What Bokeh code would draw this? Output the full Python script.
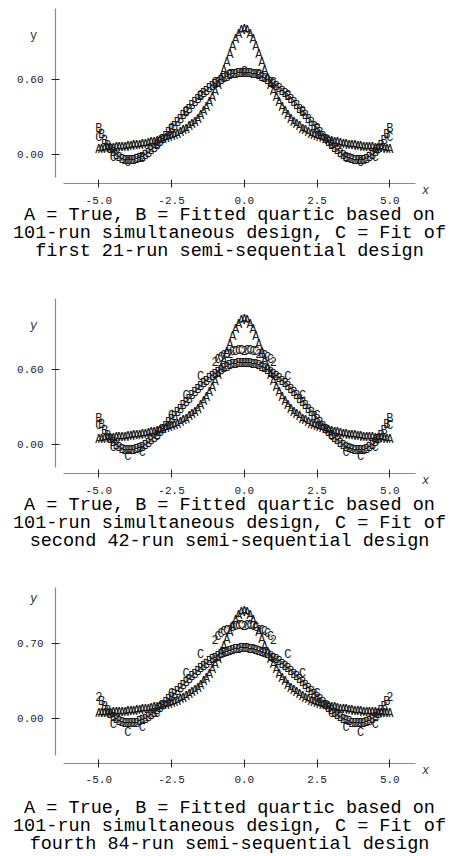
from bokeh.plotting import figure
from bokeh.layouts import column
from bokeh.models import Range1d, FixedTicker, PrintfTickFormatter, Label, ColumnDataSource
from bokeh.embed import file_html
from bokeh.resources import INLINE
from bokeh.core.properties import value

# ---------------- data ----------------
X_GRID = [-5.0, -4.9, -4.8, -4.7, -4.6, -4.5, -4.4, -4.3, -4.2, -4.1,
          -4.0, -3.9, -3.8, -3.7, -3.6, -3.5, -3.4, -3.3, -3.2, -3.1,
          -3.0, -2.9, -2.8, -2.7, -2.6, -2.5, -2.4, -2.3, -2.2, -2.1,
          -2.0, -1.9, -1.8, -1.7, -1.6, -1.5, -1.4, -1.3, -1.2, -1.1,
          -1.0, -0.9, -0.8, -0.7, -0.6, -0.5, -0.4, -0.3, -0.2, -0.1,
          0.0,
          0.1, 0.2, 0.3, 0.4, 0.5, 0.6, 0.7, 0.8, 0.9, 1.0,
          1.1, 1.2, 1.3, 1.4, 1.5, 1.6, 1.7, 1.8, 1.9, 2.0,
          2.1, 2.2, 2.3, 2.4, 2.5, 2.6, 2.7, 2.8, 2.9, 3.0,
          3.1, 3.2, 3.3, 3.4, 3.5, 3.6, 3.7, 3.8, 3.9, 4.0,
          4.1, 4.2, 4.3, 4.4, 4.5, 4.6, 4.7, 4.8, 4.9, 5.0]

# A = True
A_TRUE = [0.038, 0.040, 0.042, 0.043, 0.045, 0.047, 0.049, 0.051, 0.054, 0.056,
          0.059, 0.062, 0.065, 0.068, 0.072, 0.075, 0.080, 0.084, 0.089, 0.094,
          0.100, 0.106, 0.113, 0.121, 0.129, 0.138, 0.148, 0.159, 0.171, 0.185,
          0.200, 0.217, 0.236, 0.257, 0.281, 0.308, 0.338, 0.372, 0.410, 0.452,
          0.500, 0.552, 0.610, 0.671, 0.735, 0.800, 0.862, 0.917, 0.962, 0.990,
          1.000,
          0.990, 0.962, 0.917, 0.862, 0.800, 0.735, 0.671, 0.610, 0.552, 0.500,
          0.452, 0.410, 0.372, 0.338, 0.308, 0.281, 0.257, 0.236, 0.217, 0.200,
          0.185, 0.171, 0.159, 0.148, 0.138, 0.129, 0.121, 0.113, 0.106, 0.100,
          0.094, 0.089, 0.084, 0.080, 0.075, 0.072, 0.068, 0.065, 0.062, 0.059,
          0.056, 0.054, 0.051, 0.049, 0.047, 0.045, 0.043, 0.042, 0.040, 0.038]

# B = Fitted quartic, 101-run simultaneous design
B_FIT = [0.206, 0.154, 0.109, 0.070, 0.036, 0.009, -0.014, -0.031, -0.044, -0.052,
         -0.056, -0.056, -0.053, -0.047, -0.037, -0.025, -0.010, 0.006, 0.025, 0.046,
         0.068, 0.092, 0.117, 0.142, 0.169, 0.196, 0.223, 0.251, 0.278, 0.306,
         0.333, 0.360, 0.386, 0.411, 0.436, 0.460, 0.483, 0.505, 0.525, 0.544,
         0.562, 0.578, 0.593, 0.606, 0.618, 0.627, 0.636, 0.642, 0.646, 0.649,
         0.650,
         0.649, 0.646, 0.642, 0.636, 0.627, 0.618, 0.606, 0.593, 0.578, 0.562,
         0.544, 0.525, 0.505, 0.483, 0.460, 0.436, 0.411, 0.386, 0.360, 0.333,
         0.306, 0.278, 0.251, 0.223, 0.196, 0.169, 0.142, 0.117, 0.092, 0.068,
         0.046, 0.025, 0.006, -0.010, -0.025, -0.037, -0.047, -0.053, -0.056, -0.056,
         -0.052, -0.044, -0.031, -0.014, 0.009, 0.036, 0.070, 0.109, 0.154, 0.206]

# C = fits of the semi-sequential designs (plotted at the design points)
C_OUTER_X = [-5.0, -4.5, -4.0, -3.5, -3.0, -2.5, -2.0, -1.5, -1.0, -0.5, 0.0,
             0.5, 1.0, 1.5, 2.0, 2.5, 3.0, 3.5, 4.0, 4.5, 5.0]
C_CENTER_X = [-1.0, -0.9, -0.8, -0.7, -0.6, -0.5, -0.4, -0.3, -0.2, -0.1, 0.0,
              0.1, 0.2, 0.3, 0.4, 0.5, 0.6, 0.7, 0.8, 0.9, 1.0]

C1_Y = [0.130, -0.029, -0.070, -0.034, 0.076, 0.205, 0.343, 0.470, 0.572, 0.637, 0.660,
        0.637, 0.572, 0.470, 0.343, 0.205, 0.076, -0.034, -0.070, -0.029, 0.130]

C2_OUTER_Y = [0.150, -0.025, -0.100, -0.065, 0.058, 0.230, 0.390, 0.540, 0.665, 0.731, 0.755,
              0.731, 0.665, 0.540, 0.390, 0.230, 0.058, -0.065, -0.100, -0.025, 0.150]
C2_CENTER_Y = [0.665, 0.681, 0.696, 0.709, 0.721, 0.731, 0.739, 0.746, 0.751, 0.754, 0.755,
               0.754, 0.751, 0.746, 0.739, 0.731, 0.721, 0.709, 0.696, 0.681, 0.665]

C3_OUTER_Y = [0.209, -0.065, -0.140, -0.093, 0.042, 0.225, 0.420, 0.597, 0.745, 0.838, 0.870,
              0.838, 0.745, 0.597, 0.420, 0.225, 0.042, -0.093, -0.140, -0.065, 0.209]
C3_CENTER_Y = [0.745, 0.768, 0.789, 0.808, 0.824, 0.838, 0.850, 0.858, 0.865, 0.869, 0.870,
               0.869, 0.865, 0.858, 0.850, 0.838, 0.824, 0.808, 0.789, 0.768, 0.745]

X_TICKS = [-5.0, -2.5, 0.0, 2.5, 5.0]
Y_TICKS = [[0.0, 0.6], [0.0, 0.6], [0.0, 0.7]]

CAPTIONS = [
    ["A = True, B = Fitted quartic based on",
     "101-run simultaneous design, C = Fit of",
     "first 21-run semi-sequential design"],
    ["A = True, B = Fitted quartic based on",
     "101-run simultaneous design, C = Fit of",
     "second 42-run semi-sequential design"],
    ["A = True, B = Fitted quartic based on",
     "101-run simultaneous design, C = Fit of",
     "fourth 84-run semi-sequential design"],
]

C_SERIES = [
    (C_OUTER_X, C1_Y),
    (C_OUTER_X + C_CENTER_X, C2_OUTER_Y + C2_CENTER_Y),
    (C_OUTER_X + C_CENTER_X, C3_OUTER_Y + C3_CENTER_Y),
]

# ---------------- layout (page pixels, page origin = canvas origin) ----------------
W = 453
X0_PX, X_PPU = 243.8, 29.1
PANELS = [
    dict(top=0, height=290, y0=154.0, ppu=124.5, yax=(8.3, 176.7), xax=183.3,
         ylab=35, xlab=190, cap=[215, 233, 251]),
    dict(top=290, height=290, y0=444.0, ppu=124.5, yax=(298.3, 466.7), xax=473.3,
         ylab=325, xlab=480, cap=[505, 523, 541]),
    dict(top=580, height=276, y0=718.0, ppu=106.7, yax=(586.7, 755.0), xax=762.7,
         ylab=598, xlab=770, cap=[808, 826, 844]),
]
MONO = "Liberation Mono"


def px_to_x(px):
    return (px - X0_PX) / X_PPU


def symbol_points(c_x, c_y, tol=0.004):
    pts = [(x, y, "A") for x, y in zip(X_GRID, A_TRUE)]
    pts += [(x, y, "B") for x, y in zip(X_GRID, B_FIT)]
    pts += [(x, y, "C") for x, y in zip(c_x, c_y)]
    groups = {}
    for x, y, s in pts:
        groups.setdefault(round(x * 10), []).append((x, y, s))
    xs, ys, ts = [], [], []

    def flush(cl):
        xs.append(cl[0][0])
        ys.append(sum(p[1] for p in cl) / len(cl))
        ts.append(cl[0][2] if len(cl) == 1 else str(len(cl)))

    for key in sorted(groups):
        g = sorted(groups[key], key=lambda t: t[1])
        cl = [g[0]]
        for item in g[1:]:
            if item[1] - cl[-1][1] < tol:
                cl.append(item)
            else:
                flush(cl)
                cl = [item]
        flush(cl)
    return xs, ys, ts


figs = []
for i, P in enumerate(PANELS):
    top, H, y0, ppu = P["top"], P["height"], P["y0"], P["ppu"]

    def py(pypx, y0=y0, ppu=ppu):
        return (y0 - pypx) / ppu

    p = figure(width=W, height=H,
               x_range=Range1d(px_to_x(0), px_to_x(W)),
               y_range=Range1d(py(top + H), py(top)),
               output_backend="svg", toolbar_location=None,
               min_border_left=0, min_border_right=0,
               min_border_top=0, min_border_bottom=0)
    p.title.visible = False
    p.outline_line_color = None
    p.xgrid.visible = False
    p.ygrid.visible = False
    p.background_fill_color = "white"
    p.border_fill_color = "white"

    for ax in (p.xaxis[0], p.yaxis[0]):
        ax.axis_line_color = "#8a8a8a"
        ax.axis_line_width = 1.2
        ax.major_tick_line_color = "#222222"
        ax.major_tick_in = 4
        ax.major_tick_out = 4
        ax.minor_tick_line_color = None
        ax.major_label_text_font = MONO
        ax.major_label_text_font_size = "11px"
        ax.major_label_text_color = "#222222"

    p.xaxis.ticker = FixedTicker(ticks=X_TICKS)
    p.xaxis.formatter = PrintfTickFormatter(format="%.1f")
    p.xaxis.bounds = (px_to_x(63.3), px_to_x(415))
    p.xaxis.major_label_standoff = 9
    p.xaxis.fixed_location = py(P["xax"])

    p.yaxis.ticker = FixedTicker(ticks=Y_TICKS[i])
    p.yaxis.formatter = PrintfTickFormatter(format="%.2f")
    p.yaxis.bounds = (py(P["yax"][1]), py(P["yax"][0]))
    p.yaxis.major_label_standoff = 8
    p.yaxis.fixed_location = px_to_x(55)

    xs, ys, ts = symbol_points(*C_SERIES[i])
    src = ColumnDataSource(dict(x=xs, y=ys, t=ts))
    p.text(x="x", y="y", text="t", source=src,
           text_font=value(MONO), text_font_size=value("12px"),
           text_align="center", text_baseline="middle", text_color="#1a1a1a")

    # axis names
    p.add_layout(Label(x=px_to_x(425), y=py(P["xlab"]), text="x",
                       text_font=MONO, text_font_size="12px", text_font_style="italic",
                       text_align="center", text_baseline="middle", text_color="#333333"))
    p.add_layout(Label(x=px_to_x(33), y=py(P["ylab"]), text="y",
                       text_font=MONO, text_font_size="12px",
                       text_font_style="normal" if i == 0 else "italic",
                       text_align="center", text_baseline="middle", text_color="#333333"))
    # caption
    for line, cy in zip(CAPTIONS[i], P["cap"]):
        p.add_layout(Label(x=px_to_x(229), y=py(cy), text=line,
                           text_font=MONO, text_font_size="18.5px",
                           text_align="center", text_baseline="middle", text_color="black"))
    figs.append(p)

layout = column(*figs, spacing=0)
open("out.html", "w").write(file_html(layout, INLINE))
